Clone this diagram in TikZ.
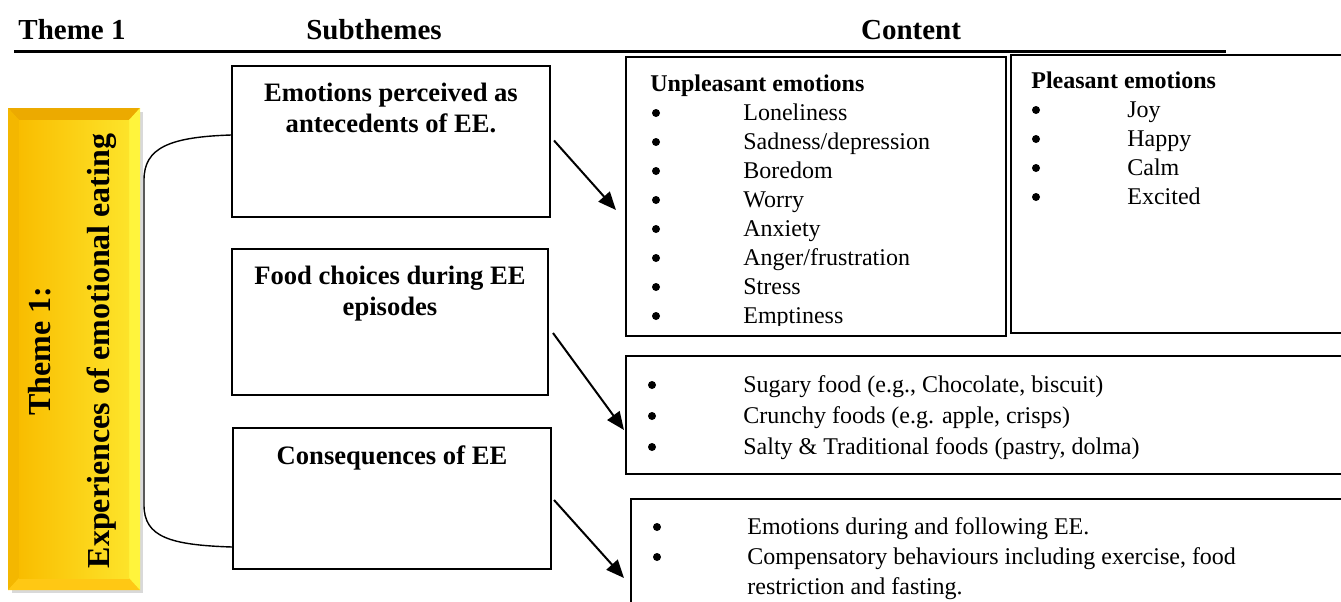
\documentclass[tikz,border=0pt]{standalone}
\usepackage{fontspec}
\setmainfont{Liberation Serif}
\usetikzlibrary{arrows.meta,calc}

\definecolor{goldmid}{RGB}{249,189,0}
\definecolor{goldtop}{RGB}{236,170,0}
\definecolor{goldside}{RGB}{244,183,0}
\definecolor{goldbot}{RGB}{255,200,20}
\definecolor{goldlit}{RGB}{255,244,60}

\begin{document}
\begin{tikzpicture}[
  x=0.5pt, y=-0.5pt,
  font=\fontsize{12}{14}\selectfont,
  >={Triangle[length=9pt,width=7.5pt]},
  hdr/.style={font=\fontsize{14.5}{17}\selectfont\bfseries, inner sep=0pt},
  themetxt/.style={font=\fontsize{16}{19}\selectfont\bfseries, rotate=90, inner sep=0pt},
  subbox/.style={draw=black, line width=1pt, inner sep=0pt},
  subtxt/.style={font=\fontsize{13.3}{15.5}\selectfont\bfseries, align=center, inner sep=0pt},
  cbox/.style={draw=black, line width=1pt, inner sep=0pt},
  bul/.style={circle, fill=black, inner sep=0pt, minimum size=4pt},
  entry/.style={anchor=base west, inner sep=0pt},
  listhead/.style={anchor=base west, inner sep=0pt, font=\fontsize{12}{14}\selectfont\bfseries},
  lead/.style={->, line width=1pt},
  brace/.style={line width=0.7pt}
]
  \useasboundingbox (0,0) rectangle (1341,601);

  \node[hdr] (h1) at (72,30) {Theme 1};
  \node[hdr] (h2) at (374,30) {Subthemes};
  \node[hdr] (h3) at (911,30) {Content};
  \draw[line width=1.5pt] (14,51) -- (1226,51);

  \fill[gray!30] (12,112) rectangle (143,593);
  \fill[goldmid] (8,108) rectangle (140,590);
  \fill[goldtop] (8,108) -- (140,108) -- (129,120) -- (19,120) -- cycle;
  \fill[goldside] (8,108) -- (19,120) -- (19,578) -- (8,590) -- cycle;
  \fill[goldbot] (8,590) -- (19,578) -- (129,578) -- (140,590) -- cycle;
  \fill[goldlit] (140,108) -- (129,120) -- (129,578) -- (140,590) -- cycle;
  \shade[left color=goldmid, middle color=goldmid, right color=goldlit!70!goldmid] (19,120) rectangle (129,578);
  \node[themetxt] (t1) at (40,351) {Theme 1:};
  \node[themetxt] (t2) at (102,351) {Experiences of emotional eating};

  \node[subbox, minimum width=159pt, minimum height=75.5pt] (sub1) at (391,141.5) {};
  \node[subbox, minimum width=158pt, minimum height=73pt] (sub2) at (390,322) {};
  \node[subbox, minimum width=159pt, minimum height=70.5pt] (sub3) at (392,498.5) {};
  \node[subtxt, anchor=north] (s1) at ([yshift=-9pt]sub1.north) {Emotions perceived as\\antecedents of EE.};
  \node[subtxt, anchor=north] (s2) at ([yshift=-9pt]sub2.north) {Food choices during EE\\episodes};
  \node[subtxt, anchor=north] (s3) at ([yshift=-9pt]sub3.north) {Consequences of EE};

  \draw[brace] ([yshift=3.25pt]sub1.west) .. controls +(-62,2) and +(0,-32) .. (144,180)
    -- (144,505) .. controls +(0,32) and +(-62,-2) .. ([yshift=-24.25pt]sub3.west);

  \node[cbox, minimum width=190pt, minimum height=139.5pt] (unpl) at (816,196.5) {};
  \node[cbox, minimum width=184.5pt, minimum height=139pt] (plea) at (1195.5,194) {};
  \node[cbox, minimum width=377pt, minimum height=59pt] (food) at (1003,415) {};
  \node[cbox, minimum width=374.5pt, minimum height=80.5pt] (cons) at (1005.5,579.5) {};

  \node[listhead] (uh) at (650,91) {Unpleasant emotions};
  \begin{scope}
    \clip (626,57) rectangle (1006,325);
    \foreach \txt [count=\i] in {Loneliness, Sadness/depression, Boredom, Worry, Anxiety, Anger/frustration, Stress, Emptiness} {
      \node[bul] (ub\i) at (656,{84+29*\i}) {};
      \node[entry] (ue\i) at (743,{91+29*\i}) {\txt};
    }
  \end{scope}

  \node[listhead] (ph) at (1031,88) {Pleasant emotions};
  \foreach \txt [count=\i] in {Joy, Happy, Calm, Excited} {
    \node[bul] (pb\i) at (1036,{81+29*\i}) {};
    \node[entry] (pe\i) at (1127,{88+29*\i}) {\txt};
  }

  \foreach \txt [count=\i] in {Sugary food (e.g.{,} Chocolate{,} biscuit), Crunchy foods (e.g. apple{,} crisps), Salty \& Traditional foods (pastry{,} dolma)} {
    \node[bul] (fb\i) at (652,{354+31*\i}) {};
    \node[entry] (fe\i) at (743,{361+31*\i}) {\txt};
  }

  \node[bul] (cb1) at (657,527) {};
  \node[entry] (ce1) at (747,534) {Emotions during and following EE.};
  \node[bul] (cb2) at (657,557) {};
  \node[entry] (ce2) at (747,564) {Compensatory behaviours including exercise, food};
  \node[entry] (ce3) at (747,594) {restriction and fasting.};

  \draw[lead] ([xshift=1.5pt,yshift=0.5pt]sub1.east) -- ([xshift=-4.5pt,yshift=-6.75pt]unpl.west);
  \draw[lead] ([xshift=2pt,yshift=-5.5pt]sub2.east) -- ([xshift=-0.5pt,yshift=-7.5pt]food.west);
  \draw[lead] ([xshift=1pt,yshift=-0.75pt]sub3.east) -- ([xshift=-3pt,yshift=0.75pt]cons.west);
\end{tikzpicture}
\end{document}
